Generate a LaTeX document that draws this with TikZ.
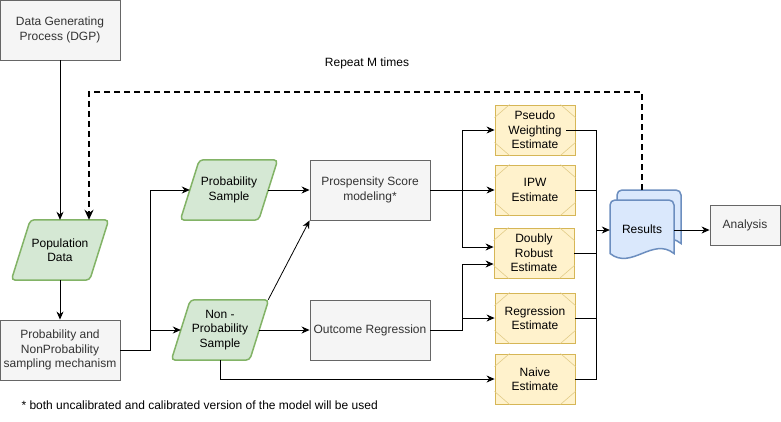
\documentclass[tikz,border=0pt]{standalone}
\usepackage{fontspec}
\setmainfont{Liberation Sans}
\usetikzlibrary{arrows.meta,calc,backgrounds}
\definecolor{gfill}{HTML}{F5F5F5}
\definecolor{gline}{HTML}{666666}
\definecolor{gtext}{HTML}{333333}
\definecolor{grfill}{HTML}{D5E8D4}
\definecolor{grline}{HTML}{82B366}
\definecolor{yfill}{HTML}{FFF2CC}
\definecolor{yline}{HTML}{D6B656}
\definecolor{bfill}{HTML}{DAE8FC}
\definecolor{bline}{HTML}{6C8EBF}
\newcommand\fs{\fontsize{12}{14.5}\selectfont}
\newcommand\parashape[1]{%
  \draw[greenshape] ([xshift=-9.5pt]#1.south west) -- ([xshift=9.5pt]#1.north west) -- ([xshift=9.5pt]#1.north east) -- ([xshift=-9.5pt]#1.south east) -- cycle;}
\newcommand\hexlines[1]{%
  \draw[hexline] ([xshift=15pt]#1.north west) -- ([yshift=-13pt]#1.north west);
  \draw[hexline] ([xshift=15pt]#1.south west) -- ([yshift=13pt]#1.south west);
  \draw[hexline] ([xshift=-15pt]#1.north east) -- ([yshift=-13pt]#1.north east);
  \draw[hexline] ([xshift=-15pt]#1.south east) -- ([yshift=13pt]#1.south east);}
\tikzset{
  graybox/.style={draw=gline, fill=gfill, text=gtext, line width=0.9pt, minimum width=120pt, minimum height=60pt, align=center, inner sep=0pt, font=\fs},
  paranode/.style={minimum width=78pt, minimum height=60pt, align=center, inner sep=0pt, font=\fs},
  greenshape/.style={draw=grline, fill=grfill, line width=1.5pt, rounded corners=4pt},
  estbox/.style={draw=yline, fill=yfill, line width=0.9pt, minimum width=80pt, minimum height=50pt, align=center, inner sep=0pt, font=\fs},
  hexline/.style={draw=yline!70, line width=0.6pt},
  conn/.style={-{Stealth[length=8pt,width=7pt]}, line width=0.8pt},
  plain/.style={line width=0.8pt},
  repeatline/.style={-{Stealth[length=10pt,width=9pt]}, line width=1.6pt, dash pattern=on 6pt off 4pt},
  docshape/.style={draw=bline, fill=bfill, line width=1.5pt},
}
\begin{document}
\begin{tikzpicture}[x=1pt,y=-1pt]
\useasboundingbox (0,0) rectangle (781,421);

% nodes
\node[graybox] (dgp) at (60,30) {Data Generating\\Process (DGP)};
\node[paranode] (pop) at (60,250) {Population\\Data};
\node[graybox] (pb) at (60,350) {Probability and\\NonProbability\\sampling mechanism};
\node[paranode] (prob) at (229,190) {Probability\\Sample};
\node[paranode] (np) at (220,330) {Non -\\Probability\\Sample};
\node[graybox] (ps) at (370,190) {Prospensity Score\\modeling*};
\node[graybox] (ore) at (370,330) {Outcome Regression};
\node[estbox] (pw) at (535,130) {Pseudo\\Weighting\\Estimate};
\node[estbox] (ipw) at (535,190) {IPW\\Estimate};
\node[estbox] (dr) at (534,253) {Doubly\\Robust\\Estimate};
\node[estbox] (reg) at (535,318) {Regression\\Estimate};
\node[estbox] (nv) at (535,379) {Naive\\Estimate};
\node[minimum width=64pt, minimum height=58pt, inner sep=0pt, font=\fs] (res) at (642,229) {Results};
\node[graybox, minimum width=70pt, minimum height=40pt] (an) at (745,225) {Analysis};
\node[font=\fs] (rep) at (367,63) {Repeat M times};
\node[font=\fs, anchor=west] (note) at (18,405) {* both uncalibrated and calibrated version of the model will be used};

\foreach \n in {pw,ipw,dr,reg,nv} {\hexlines{\n}}

\begin{pgfonlayer}{background}
  \fill[white] (0,0) rectangle (781,421);
  \parashape{pop}
  \parashape{prob}
  \parashape{np}
  \draw[docshape] (617,243.5) {[rounded corners=5pt] -- (617,190) -- (681,190) -- (681,220)} -- (681,243.5)
     .. controls (659.7,226.5) and (638.3,260.5) .. (617,243.5) -- cycle;
  \draw[docshape] (610,253.5) {[rounded corners=5pt] -- (610,200) -- (674,200) -- (674,230)} -- (674,253.5)
     .. controls (652.7,236.5) and (631.3,270.5) .. (610,253.5) -- cycle;
\end{pgfonlayer}

% coordinates
\coordinate (rtop) at (642,190);
\coordinate (rcorner) at (89,92);
\coordinate (bus) at (596,230);

% connectors
\draw[conn] (dgp) -- (pop);
\draw[conn] (pop) -- (pb);
\draw[conn] (pb.east) -- ++(30,0) |- (np.west);
\draw[conn] (pb.east) -- ++(30,0) |- (prob.west);
\draw[conn] (prob.east) -- (ps.west);
\draw[conn] (np.east) -- (ore.west);
\draw[conn] ([xshift=9pt]np.north east) -- (ps.south west);
\draw[conn] (np.south) |- (nv.west);
\draw[conn] (ps.east) -- ++(32,0) |- (pw.west);
\draw[conn] (ps.east) -- (ipw.west);
\draw[conn] (ps.east) -- ++(32,0) |- ([yshift=6pt]dr.west);
\draw[conn] (ore.east) -- ++(32,0) |- ([yshift=-11pt]dr.west);
\draw[conn] (ore.east) -- ++(32,0) |- (reg.west);
\draw[plain] ([xshift=-9pt]pw.east) -| (bus);
\draw[plain] (ipw.east) -| (bus);
\draw[plain] (dr.east) -| (bus);
\draw[plain] (reg.east) -| (bus);
\draw[plain] (nv.east) -| (bus);
\draw[conn] (bus) -- (bus -| res.west);
\draw[conn] (res.east |- bus) -- (bus -| an.west);
\draw[repeatline] (rtop) |- (rcorner) -- ([xshift=29pt]pop.north);
\end{tikzpicture}
\end{document}
